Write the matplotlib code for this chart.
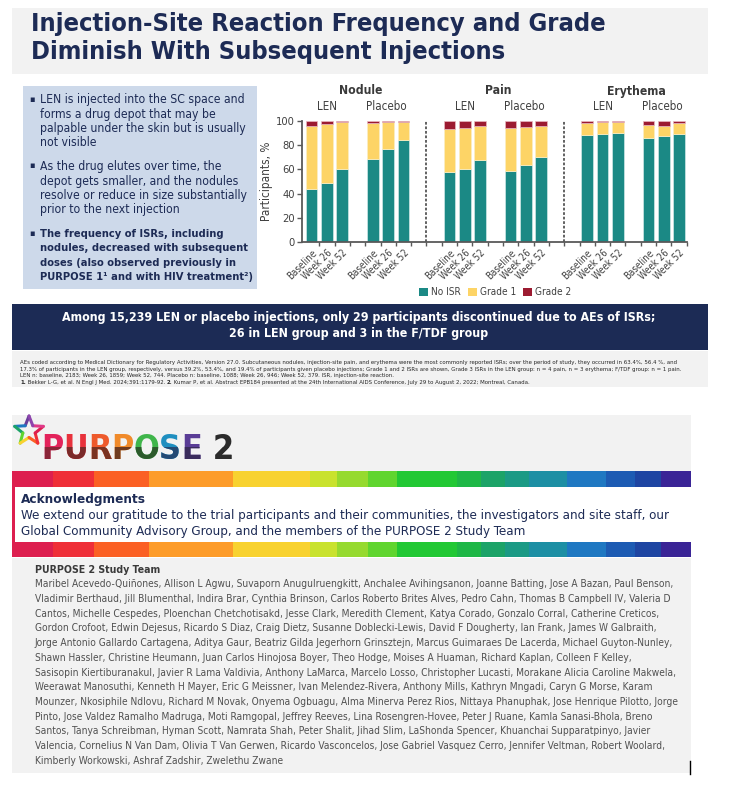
import numpy as np
import matplotlib
matplotlib.use('Agg')
import matplotlib.pyplot as plt
from matplotlib.patches import Rectangle, Patch
from matplotlib.lines import Line2D
from matplotlib.transforms import Bbox, TransformedBbox, blended_transform_factory

plt.rcParams['font.family'] = 'DejaVu Sans'
plt.rcParams['font.stretch'] = 'condensed'

# ---- chart data ----
panels = ['Nodule', 'Pain', 'Erythema']
groups = ['LEN', 'Placebo']
timepoints = ['Baseline', 'Week 26', 'Week 52']
legend_labels = ['No ISR', 'Grade 1', 'Grade 2']

# order: panel -> group -> timepoint
no_isr = [44, 49, 60, 69, 76.5, 84.5,
          57.5, 60, 68, 58.5, 63.5, 70.5,
          88.5, 89.5, 90, 86, 87.5, 89]
grade1 = [52, 48.5, 39, 29, 22.5, 15,
          35.5, 34, 28, 35.5, 31.5, 25.5,
          10, 9.5, 9, 10.5, 8.5, 9]
grade2 = [4, 2.5, 1, 2, 1, 0.5,
          7, 6, 4, 6, 5, 4,
          1.5, 1, 1, 3.5, 4, 2]

# ---- text ----
title_lines = ['Injection-Site Reaction Frequency and Grade',
               'Diminish With Subsequent Injections']
bullets = [
    ['LEN is injected into the SC space and', 'forms a drug depot that may be',
     'palpable under the skin but is usually', 'not visible'],
    ['As the drug elutes over time, the', 'depot gets smaller, and the nodules',
     'resolve or reduce in size substantially', 'prior to the next injection'],
    ['The frequency of ISRs, including', 'nodules, decreased with subsequent',
     'doses (also observed previously in', 'PURPOSE 1\u00b9 and with HIV treatment\u00b2)'],
]
banner_lines = ['Among 15,239 LEN or placebo injections, only 29 participants discontinued due to AEs of ISRs;',
                '26 in LEN group and 3 in the F/TDF group']
footnotes = [
    'AEs coded according to Medical Dictionary for Regulatory Activities, Version 27.0. Subcutaneous nodules, injection-site pain, and erythema were the most commonly reported ISRs; over the period of study, they occurred in 63.4%, 56.4 %, and',
    '17.3% of participants in the LEN group, respectively, versus 39.2%, 53.4%, and 19.4% of participants given placebo injections; Grade 1 and 2 ISRs are shown, Grade 3 ISRs in the LEN group: n = 4 pain, n = 3 erythema; F/TDF group: n = 1 pain.',
    'LEN n: baseline, 2183; Week 26, 1859; Week 52, 744. Placebo n: baseline, 1088; Week 26, 946; Week 52, 379. ISR, injection-site reaction.',
]
refs = [('1.', True), (' Bekker L-G, et al. N Engl J Med. 2024;391:1179-92. ', False), ('2.', True),
        (' Kumar P, et al. Abstract EPB184 presented at the 24th International AIDS Conference, July 29 to August 2, 2022; Montreal, Canada.', False)]
ack_lines = ['We extend our gratitude to the trial participants and their communities, the investigators and site staff, our',
             'Global Community Advisory Group, and the members of the PURPOSE 2 Study Team']
team_lines = [
    'Maribel Acevedo-Qui\u00f1ones, Allison L Agwu, Suvaporn Anugulruengkitt, Anchalee Avihingsanon, Joanne Batting, Jose A Bazan, Paul Benson,',
    'Vladimir Berthaud, Jill Blumenthal, Indira Brar, Cynthia Brinson, Carlos Roberto Brites Alves, Pedro Cahn, Thomas B Campbell IV, Valeria D',
    'Cantos, Michelle Cespedes, Ploenchan Chetchotisakd, Jesse Clark, Meredith Clement, Katya Corado, Gonzalo Corral, Catherine Creticos,',
    'Gordon Crofoot, Edwin Dejesus, Ricardo S Diaz, Craig Dietz, Susanne Doblecki-Lewis, David F Dougherty, Ian Frank, James W Galbraith,',
    'Jorge Antonio Gallardo Cartagena, Aditya Gaur, Beatriz Gilda Jegerhorn Grinsztejn, Marcus Guimaraes De Lacerda, Michael Guyton-Nunley,',
    'Shawn Hassler, Christine Heumann, Juan Carlos Hinojosa Boyer, Theo Hodge, Moises A Huaman, Richard Kaplan, Colleen F Kelley,',
    'Sasisopin Kiertiburanakul, Javier R Lama Valdivia, Anthony LaMarca, Marcelo Losso, Christopher Lucasti, Morakane Alicia Caroline Makwela,',
    'Weerawat Manosuthi, Kenneth H Mayer, Eric G Meissner, Ivan Melendez-Rivera, Anthony Mills, Kathryn Mngadi, Caryn G Morse, Karam',
    'Mounzer, Nkosiphile Ndlovu, Richard M Novak, Onyema Ogbuagu, Alma Minerva Perez Rios, Nittaya Phanuphak, Jose Henrique Pilotto, Jorge',
    'Pinto, Jose Valdez Ramalho Madruga, Moti Ramgopal, Jeffrey Reeves, Lina Rosengren-Hovee, Peter J Ruane, Kamla Sanasi-Bhola, Breno',
    'Santos, Tanya Schreibman, Hyman Scott, Namrata Shah, Peter Shalit, Jihad Slim, LaShonda Spencer, Khuanchai Supparatpinyo, Javier',
    'Valencia, Cornelius N Van Dam, Olivia T Van Gerwen, Ricardo Vasconcelos, Jose Gabriel Vasquez Cerro, Jennifer Veltman, Robert Woolard,',
    'Kimberly Workowski, Ashraf Zadshir, Zwelethu Zwane',
]

# ---- styles ----
navy = '#1d2b55'
teal, yellow, crimson = '#1b8985', '#fdd466', '#9c1b31'
gray_bg = '#f2f2f2'
rainbow_edges = [12, 53, 94, 149, 233, 310, 337, 368, 397, 457, 481, 505, 529, 567, 606, 635, 661, 691]
rainbow_colors = ['#dd1f4f', '#ef2f38', '#fb6024', '#fd9c2a', '#f8d230', '#c9e22e', '#96da2f', '#60d52f',
                  '#22c834', '#1eb746', '#1ca368', '#1b9a85', '#1d8fa4', '#1f78c2', '#1d5bb3', '#1e45a2', '#3a2496']

W, H = 749, 797
fig = plt.figure(figsize=(W / 100, H / 100), dpi=100)
fig.patch.set_facecolor('white')


def fx(x):
    return x / W


def fy(y):
    return 1 - y / H


def box(x0, y0, x1, y1, color, z=0):
    fig.add_artist(Rectangle((fx(x0), fy(y1)), (x1 - x0) / W, (y1 - y0) / H,
                             transform=fig.transFigure, facecolor=color, edgecolor='none', zorder=z))


def text(x, y, s, **kw):
    kw.setdefault('va', 'center')
    return fig.text(fx(x), fy(y), s, **kw)


renderer = fig.canvas.get_renderer()


def width_px(s, **kw):
    t1 = fig.text(0, 0, s + '|', **kw)
    t2 = fig.text(0, 0, '|', **kw)
    w = t1.get_window_extent(renderer).width - t2.get_window_extent(renderer).width
    t1.remove()
    t2.remove()
    return w


# ---- title ----
box(12, 8, 708, 74, gray_bg)
text(31, 31, title_lines[0], fontsize=18.3, fontweight='bold', color=navy, va='baseline')
text(31, 59, title_lines[1], fontsize=18.3, fontweight='bold', color=navy, va='baseline')

# ---- left bullet box ----
box(23, 86, 257, 289, '#cdd9ea')
starts = [100, 166.7, 234]
for i, lines in enumerate(bullets):
    bold = i == 2
    text(29.5, starts[i] - 1, '\u25aa', fontsize=6.5, color=navy)
    for j, line in enumerate(lines):
        text(40, starts[i] + j * 14.3, line, fontsize=8.0 if bold else 8.7, color=navy,
             fontweight='bold' if bold else 'normal')

# ---- chart ----
x = np.array([p * 9 + g * 4 + t for p in range(3) for g in range(2) for t in range(3)])
no_isr = np.array(no_isr)
grade1 = np.array(grade1)
grade2 = np.array(grade2)

ax = fig.add_axes([fx(302), fy(242), (686.7 - 302) / W, 121 / H])
ax.patch.set_alpha(0)
bw = 0.76
ax.bar(x, no_isr, width=bw, color=teal, edgecolor='#cfe8e7', linewidth=0.5, zorder=2)
ax.bar(x, grade1, bottom=no_isr, width=bw, color=yellow, edgecolor='#fbeec4', linewidth=0.5, zorder=2)
ax.bar(x, grade2, bottom=no_isr + grade1, width=bw, color=crimson, edgecolor='#e9b9c1', linewidth=0.5, zorder=2)
ax.set_xlim(-0.63, 24.5)
ax.set_ylim(0, 100)
for s in ['top', 'right']:
    ax.spines[s].set_visible(False)
for s in ['left', 'bottom']:
    ax.spines[s].set_color('#595959')
    ax.spines[s].set_linewidth(1.3)
ax.set_yticks(np.arange(0, 101, 20))
ax.tick_params(axis='y', length=3.5, width=1, color='#595959', labelsize=8, labelcolor='#404040', pad=1.5)
ax.set_xticks(x)
ax.set_xticklabels(timepoints * 6, rotation=45, ha='right', rotation_mode='anchor',
                   fontsize=7, color='#404040')
ax.set_xticks(np.arange(0.5, 24.6, 1), minor=True)
ax.tick_params(axis='x', which='major', length=0, pad=4)
ax.tick_params(axis='x', which='minor', length=3, width=1, color='#595959')
for xv in [7.5, 16.5]:
    ax.axvline(xv, color='#555555', linestyle=(0, (1.5, 1)), linewidth=1.3, zorder=1)
ax.set_ylabel('Participants, %', fontsize=8.5, color='#404040')
ax.yaxis.set_label_coords((272.7 - 302) / 384.7, 0.5)

tr = blended_transform_factory(ax.transData, ax.transAxes)
for p, name in enumerate(panels):
    ax.text(p * 9 + 3.2, (242 - 91) / 121, name, transform=tr, ha='center', va='center',
            fontsize=8.7, fontweight='bold', color='#3a3a3a')
    for g, gname in enumerate(groups):
        ax.text(p * 9 + g * 4 + 1 - 0.1 * g, (242 - 107) / 121, gname, transform=tr, ha='center',
                va='center', fontsize=8.3, color='#404040')

handles = [Patch(facecolor=c, edgecolor='none') for c in [teal, yellow, crimson]]
fig.legend(handles, legend_labels, loc='center', bbox_to_anchor=(fx(495), fy(292.5)), ncol=3,
           frameon=False, fontsize=7.2, handlelength=0.9, handleheight=0.9, columnspacing=0.7,
           handletextpad=0.3, labelcolor='#404040', borderpad=0)

# ---- banner ----
box(12, 304, 708, 350, '#1c2b55')
text(359, 317, banner_lines[0], fontsize=8.9, fontweight='bold', color='white', ha='center')
text(359, 334, banner_lines[1], fontsize=8.9, fontweight='bold', color='white', ha='center')

# ---- footnotes ----
box(12, 351, 708, 387, gray_bg)
fy_lines = [362.7, 369.3, 375.7, 382.3]
for line, yy in zip(footnotes, fy_lines):
    text(20, yy, line, fontsize=4.3, color='#262626')
xx = 20
for s, bold in refs:
    kw = dict(fontsize=4.3, color='#262626', fontweight='bold' if bold else 'normal')
    text(xx, fy_lines[3], s, **kw)
    xx += width_px(s, **kw)

# ---- PURPOSE 2 logo ----
box(12, 415, 691, 471, gray_bg)
star_cols = ['#6a3d9a', '#1f78c2', '#1ca368', '#60d52f', '#f8d230', '#fb6024', '#ef2f38', '#dd1f4f',
             '#e03a8a', '#8e44ad']
cx, cy, R, r = 29, 431, 15, 6.5
ang = np.deg2rad(90 + np.arange(11) * 36)
rad = np.array([R if k % 2 == 0 else r for k in range(11)])
px_ = cx + rad * np.cos(ang)
py_ = cy - rad * np.sin(ang)
for k in range(10):
    fig.add_artist(Line2D([fx(px_[k]), fx(px_[k + 1])], [fy(py_[k]), fy(py_[k + 1])],
                          transform=fig.transFigure, color=star_cols[k], linewidth=2.2,
                          solid_capstyle='round'))

logo_letters = list('PURPOSE') + [' ', '2']
logo_top = ['#e3235b', '#e8323c', '#ee5a2c', '#f08a2a', '#3fb54a', '#1f8fc0', '#5a3d96', 'none', '#2b2b2b']
logo_bot = ['#8a2538', '#7a2a2a', '#7a3322', '#6f3b1f', '#2c5a2c', '#244a74', '#3a2c5c', 'none', '#2b2b2b']
clip = TransformedBbox(Bbox([[0, 0], [1, fy(447)]]), fig.transFigure)
xx = 41
for ch, ct, cb in zip(logo_letters, logo_top, logo_bot):
    kw = dict(fontsize=24.3, fontweight='bold', va='baseline')
    if ch != ' ':
        text(xx, 459, ch, color=ct, **kw)
        tb = text(xx, 459, ch, color=cb, **kw)
        tb.set_clip_box(clip)
    xx += width_px(ch, **kw)

# ---- rainbow + acknowledgments ----
for k in range(len(rainbow_colors)):
    box(rainbow_edges[k], 471, rainbow_edges[k + 1], 487, rainbow_colors[k])
    box(rainbow_edges[k], 542, rainbow_edges[k + 1], 557, rainbow_colors[k])
box(12, 487, 691, 542, 'white')
box(12, 487, 15, 542, rainbow_colors[0], z=1)
text(21, 499, 'Acknowledgments', fontsize=9.7, fontweight='bold', color=navy)
text(21, 516, ack_lines[0], fontsize=9.55, color=navy)
text(21, 532, ack_lines[1], fontsize=9.55, color=navy)

# ---- study team ----
box(12, 558, 691, 773, gray_bg)
text(34.6, 570, 'PURPOSE 2 Study Team', fontsize=7.55, fontweight='bold', color='#3a3a3a')
for i, line in enumerate(team_lines):
    text(34.6, 584.3 + i * 14.72, line, fontsize=7.3, color='#505050')
fig.add_artist(Line2D([fx(690), fx(690)], [fy(761), fy(774)], transform=fig.transFigure,
                      color='black', linewidth=1))

fig.savefig('out.png', dpi=100, facecolor='white')
